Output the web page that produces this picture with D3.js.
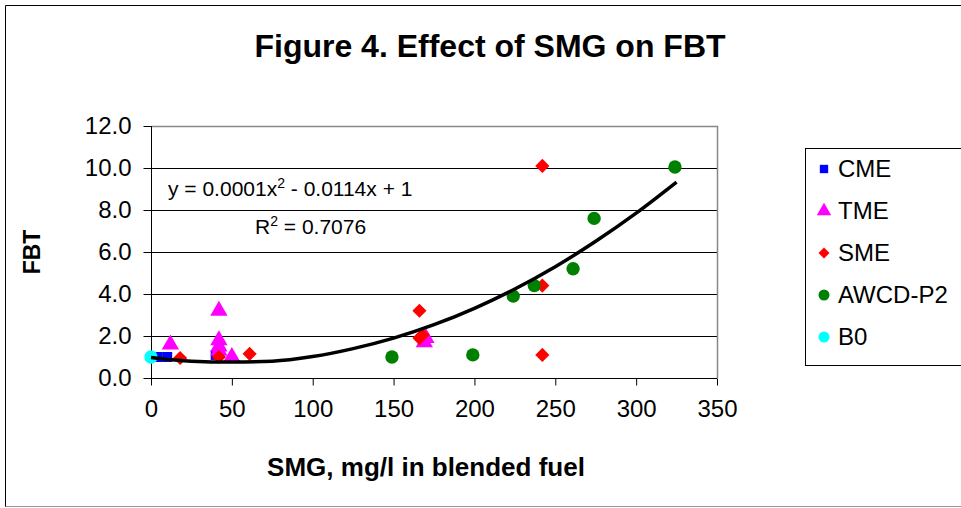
<!DOCTYPE html>
<html><head><meta charset="utf-8">
<script src="https://cdn.jsdelivr.net/npm/d3@7"></script>
<style>html,body{margin:0;padding:0;background:#fff;}svg{display:block;font-family:"Liberation Sans",Arial,sans-serif;}</style>
</head><body>
<script>
// ---- data ----
const xTicks = [0, 50, 100, 150, 200, 250, 300, 350];
const yTicks = [0, 2, 4, 6, 8, 10, 12];
const seriesNames = ["CME", "TME", "SME", "AWCD-P2", "B0"];
const cmeX = [4, 10, 40];
const cmeY = [1.0, 1.0, 1.1];
const tmeX = [12, 42, 42, 42, 42, 50, 169, 170];
const tmeY = [1.6, 3.2, 1.8, 1.5, 1.3, 1.0, 1.7, 1.9];
const smeX = [18, 42, 61, 166, 166, 168, 242, 242, 242];
const smeY = [0.95, 1.0, 1.15, 3.2, 1.9, 2.05, 10.1, 4.4, 1.1];
const awcdX = [149, 199, 224, 237, 261, 274, 324];
const awcdY = [1.0, 1.1, 3.9, 4.4, 5.2, 7.6, 10.05];
const b0X = [0];
const b0Y = [1.0];
const trendX = [0, 25, 50, 75, 100, 125, 150, 175, 200, 225, 250, 275, 300, 325];
const trendY = [0.98, 0.8, 0.76, 0.8, 1.02, 1.4, 1.9, 2.54, 3.32, 4.24, 5.3, 6.51, 7.85, 9.33];

// ---- chart ----
const W = 961, H = 508;
const svg = d3.select("body").append("svg").attr("width", W).attr("height", H);
svg.append("rect").attr("width", W).attr("height", H).attr("fill", "#fff");
svg.append("path").attr("d", "M5.5,507 L5.5,5.5 L961,5.5").attr("fill", "none").attr("stroke", "#000");
svg.append("line").attr("x1", 5.5).attr("x2", 961).attr("y1", 506.5).attr("y2", 506.5).attr("stroke", "#999");

const x = d3.scaleLinear().domain([0, 350]).range([151, 717]);
const y = d3.scaleLinear().domain([0, 12]).range([378, 126]);

svg.append("g").selectAll("line").data(yTicks.slice(1, -1)).join("line")
  .attr("x1", x(0)).attr("x2", x(350))
  .attr("y1", d => Math.round(y(d)) + 0.5).attr("y2", d => Math.round(y(d)) + 0.5)
  .attr("stroke", "#000").attr("stroke-width", 1);
svg.append("path").attr("d", `M${x(0)},${Math.round(y(12)) + 0.5} H${Math.round(x(350)) + 0.5} V${y(0)}`)
  .attr("fill", "none").attr("stroke", "#888").attr("stroke-width", 1.5);

const yAxis = d3.axisLeft(y).tickValues(yTicks).tickFormat(d3.format(".1f")).tickSize(8).tickPadding(12);
const gy = svg.append("g").attr("transform", `translate(${Math.round(x(0)) + 0.5},0)`).call(yAxis);
const xAxis = d3.axisBottom(x).tickValues(xTicks).tickFormat(d3.format("d")).tickSize(7).tickPadding(14);
const gx = svg.append("g").attr("transform", `translate(0,${Math.round(y(0)) + 0.5})`).call(xAxis);
[gx, gy].forEach(g => {
  g.selectAll("path").attr("stroke", "#000").attr("d", null);
  g.selectAll("line").attr("stroke", "#000");
  g.selectAll("text").attr("fill", "#000").style("font-size", "24px").style("font-family", "Liberation Sans, Arial, sans-serif");
});
svg.append("line").attr("x1", Math.round(x(0)) + 0.5).attr("x2", Math.round(x(0)) + 0.5).attr("y1", y(12)).attr("y2", y(0)).attr("stroke", "#000");
svg.append("line").attr("x1", x(0)).attr("x2", x(350)).attr("y1", Math.round(y(0)) + 0.5).attr("y2", Math.round(y(0)) + 0.5).attr("stroke", "#000");

// markers
const symType = { "CME": d3.symbolSquare, "TME": d3.symbolTriangle, "SME": d3.symbolSquare, "AWCD-P2": d3.symbolCircle, "B0": d3.symbolCircle };
const symSize = { "CME": 100, "TME": 130, "SME": 100, "AWCD-P2": 140, "B0": 140 };
const rot = { "SME": 45 };
const col = { "CME": "#0000FF", "TME": "#FF00FF", "SME": "#FF0000", "AWCD-P2": "#008000", "B0": "#00FFFF" };
const series = [
  ["CME", cmeX, cmeY], ["TME", tmeX, tmeY], ["SME", smeX, smeY], ["AWCD-P2", awcdX, awcdY], ["B0", b0X, b0Y]
];
series.forEach(([name, xs, ys]) => {
  svg.append("g").selectAll("path").data(xs.map((v, i) => [v, ys[i]])).join("path")
    .attr("d", d3.symbol().type(symType[name]).size(symSize[name])()).attr("fill", col[name])
    .attr("transform", d => `translate(${x(d[0])},${y(d[1])}) rotate(${rot[name] || 0})`);
});

// trendline
svg.append("path")
  .datum(trendX.map((v, i) => [v, trendY[i]]))
  .attr("d", d3.line().x(d => x(d[0])).y(d => y(d[1])).curve(d3.curveMonotoneX))
  .attr("fill", "none").attr("stroke", "#000").attr("stroke-width", 3.5);

// equation
const eq = svg.append("text").attr("x", 168).attr("y", 196).style("font-size", "21px").attr("fill", "#000");
eq.append("tspan").text("y = 0.0001x");
eq.append("tspan").attr("dy", -8).style("font-size", "14px").text("2");
eq.append("tspan").attr("dy", 8).text(" - 0.0114x + 1");
const r2 = svg.append("text").attr("x", 255).attr("y", 234).style("font-size", "21px").attr("fill", "#000");
r2.append("tspan").text("R");
r2.append("tspan").attr("dy", -8).style("font-size", "14px").text("2");
r2.append("tspan").attr("dy", 8).text(" = 0.7076");

// titles
svg.append("text").attr("x", 490).attr("y", 57).attr("text-anchor", "middle")
  .style("font-size", "32px").style("font-weight", "bold").text("Figure 4. Effect of SMG on FBT");
svg.append("text").attr("x", 426).attr("y", 476).attr("text-anchor", "middle")
  .style("font-size", "26px").style("font-weight", "bold").text("SMG, mg/l in blended fuel");
svg.append("text").attr("transform", "translate(40,252) rotate(-90)").attr("text-anchor", "middle")
  .style("font-size", "23px").style("font-weight", "bold").text("FBT");

// legend
svg.append("rect").attr("x", 805.5).attr("y", 148.5).attr("width", 200).attr("height", 217)
  .attr("fill", "#fff").attr("stroke", "#000");
const legSize = { "CME": 70, "TME": 90, "SME": 60, "AWCD-P2": 95, "B0": 95 };
seriesNames.forEach((n, i) => {
  const cy = 169 + i * 42;
  svg.append("path").attr("d", d3.symbol().type(symType[n]).size(legSize[n])()).attr("fill", col[n])
    .attr("transform", `translate(824,${cy}) rotate(${rot[n] || 0})`);
  svg.append("text").attr("x", 838).attr("y", cy + 8).style("font-size", "24px").attr("fill", "#000").text(n);
});
</script>
</body></html>
